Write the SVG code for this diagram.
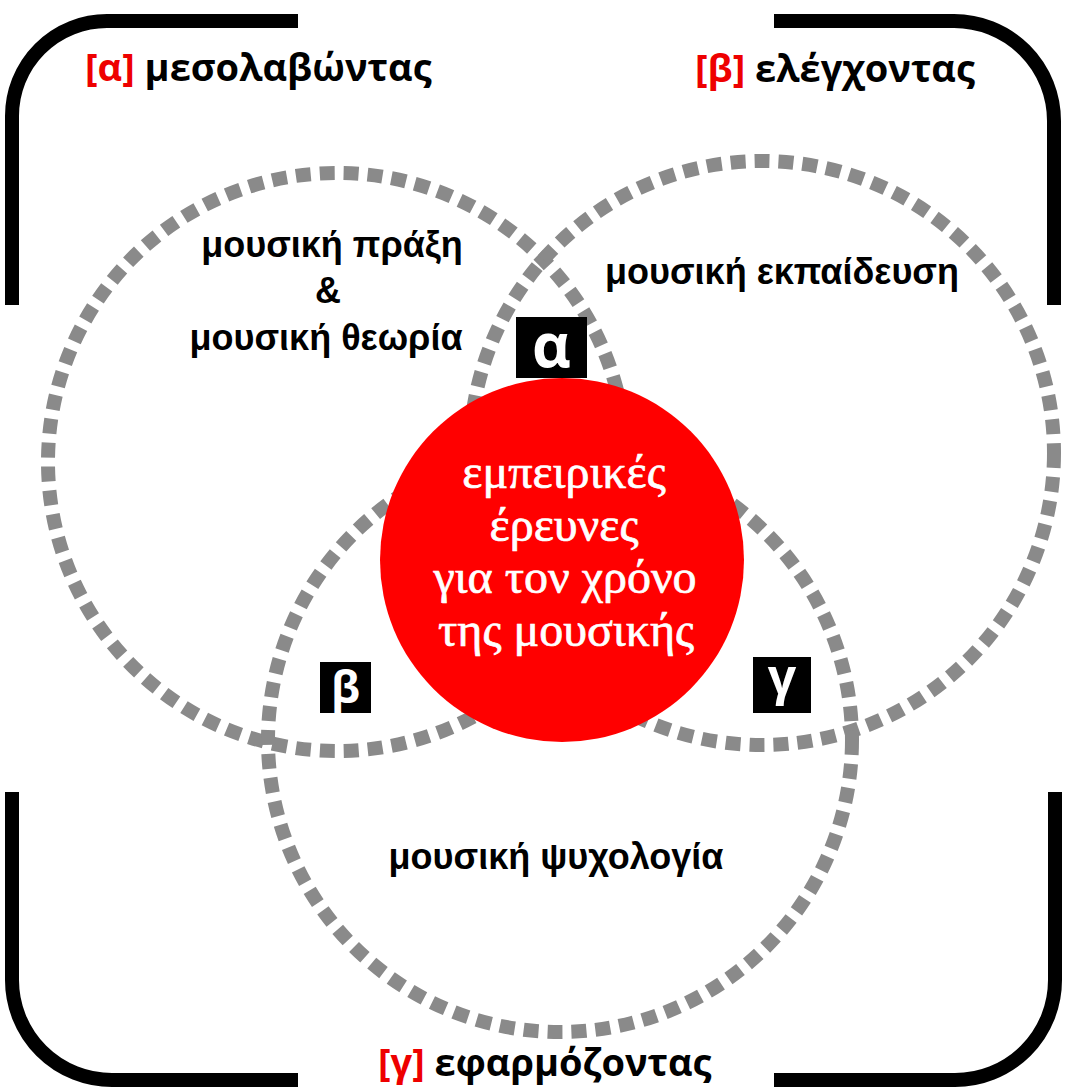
<svg xmlns="http://www.w3.org/2000/svg" width="1077" height="1087" viewBox="0 0 1077 1087">
<style>
.frame{fill:none;stroke:#000;stroke-width:14}
.ring{fill:none;stroke:#8a8a8a;stroke-width:14;stroke-dasharray:15 9}
.corner{font-family:"Open Sans","Liberation Sans",sans-serif;font-weight:700;font-size:38px;fill:#000}
.red{fill:#ee0000}
.area{font-family:"Liberation Sans",Arial,sans-serif;font-weight:700;font-size:36px;fill:#000;text-anchor:middle}
.core{font-family:"Liberation Serif","DejaVu Serif",serif;font-size:48px;fill:#fff;stroke:#fff;stroke-width:0.7;text-anchor:middle}
.box{fill:#000}
.boxt{font-family:"Open Sans","Liberation Sans",sans-serif;font-weight:700;fill:#fff;text-anchor:middle}
</style>
<rect width="1077" height="1087" fill="#fff"/>
<g id="frame">
<path class="frame" d="M12 305 V116 A95 95 0 0 1 107 21 H298"/>
<path class="frame" d="M774 21 H954 A100 100 0 0 1 1054 121 V305"/>
<path class="frame" d="M12 792 V980 A100 100 0 0 0 112 1080 H298"/>
<path class="frame" d="M774 1080 H955 A100 100 0 0 0 1055 980 V792"/>
</g>
<g id="corner-labels">
<text class="corner" x="85" y="81"><tspan class="red">[α]</tspan> μεσολαβώντας</text>
<text class="corner" x="695" y="82"><tspan class="red">[β]</tspan> ελέγχοντας</text>
<text class="corner" x="378" y="1076"><tspan class="red">[γ]</tspan> εφαρμόζοντας</text>
</g>
<g id="connectors"></g>
<g id="circle-left">
<circle class="ring" cx="337" cy="462" r="289"/>
<text class="area" x="332" y="257">μουσική πράξη</text>
<text class="area" x="328" y="303">&amp;</text>
<text class="area" x="326" y="350">μουσική θεωρία</text>
</g>
<g id="circle-right">
<circle class="ring" cx="762" cy="453" r="292"/>
<text class="area" x="782" y="284">μουσική εκπαίδευση</text>
</g>
<g id="circle-bottom">
<circle class="ring" cx="560" cy="740" r="292"/>
<text class="area" x="556" y="869">μουσική ψυχολογία</text>
</g>
<g id="core">
<circle cx="562" cy="560" r="182" fill="#ff0000"/>
<text class="core" x="564" y="488">εμπειρικές</text>
<text class="core" x="564" y="541">έρευνες</text>
<text class="core" x="565" y="593">για τον χρόνο</text>
<text class="core" x="566" y="646">της μουσικής</text>
</g>
<g id="tag-alpha">
<rect class="box" x="516" y="317" width="71" height="61"/>
<text class="boxt" x="551.5" y="367" font-size="60">α</text>
</g>
<g id="tag-beta">
<rect class="box" x="320" y="662" width="51" height="51"/>
<text class="boxt" x="345.5" y="703" font-size="44">β</text>
</g>
<g id="tag-gamma">
<rect class="box" x="753" y="657" width="58" height="56"/>
<text class="boxt" x="782" y="694" font-size="50">γ</text>
</g>
</svg>
